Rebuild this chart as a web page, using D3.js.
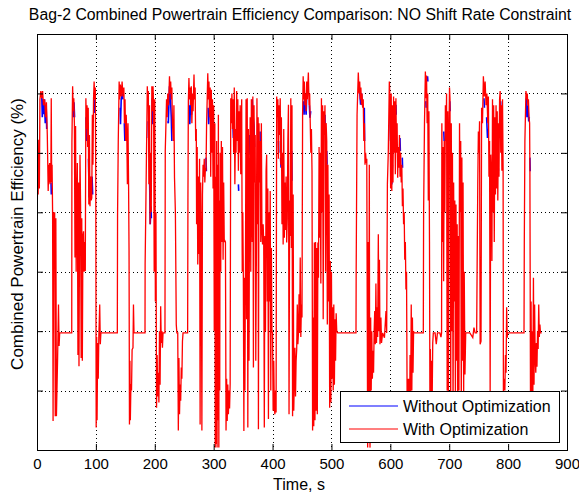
<!DOCTYPE html>
<html>
<head>
<meta charset="utf-8">
<script src="https://cdn.jsdelivr.net/npm/d3@7"></script>
<style>
body { margin: 0; background: #fff; }
text { font-family: "Liberation Sans", Arial, sans-serif; fill: #000; }
</style>
</head>
<body>
<div id="chart"></div>
<script>
const titleText = "Bag-2 Combined Powertrain Efficiency Comparison: NO Shift Rate Constraint";
const xLabel = "Time, s";
const yLabel = "Combined Powertrain Efficiency (%)";
const xTicks = [0, 100, 200, 300, 400, 500, 600, 700, 800, 900];
const yTicks = [0, 1, 2, 3, 4, 5, 6, 7];
const legendLabels = ["Without Optimization", "With Optimization"];
const seriesColors = ["#0000ff", "#ff0000"];

// [time s, efficiency (axis units)]
const withOpt = [
  [0,3.68],[0.8,4.36],[2,4.3],[3,5.22],[4,4.4],[5,5.9],[6.5,6.04],[8,5.92],[9.5,6.04],[11,5.8],[13,5.9],[14.5,5.6],[16,5.85],[17.5,5.3],[19,4.36],
  [20,4.8],[20.7,4.5],[21.4,4.83],[22.1,4.47],[22.8,4.8],[23.5,4.5],[24.2,5.92],[24.9,4.5],[25.6,4.8],[26.5,3.99],[27.3,0.49],[28.3,3.99],[30,3.99],[31,0.57],[32,3.9],[33,0.57],
  [35,1.55],[36.5,2.45],[37.5,1.75],[38.5,1.97],[59,1.97],
  [59.3,5.17],[60.5,6.12],[61.5,5.7],[62.5,5.92],[63.5,5.5],[64.5,3.24],[65.5,5.45],[66.5,3.0],[67.5,4.2],[68.5,4.83],[69.5,1.6],[70.5,4.5],[71.3,1.41],[72.2,3.5],[73,4.97],
  [74,4.13],[75,1.55],[76,3.9],[77,1.5],[78,3.6],[79,3.68],[80,3.0],[81,3.5],[82,3.01],[83,5.92],[84,5.4],[85,5.8],[86,5.1],[87,5.76],[88,4.13],[89,5.3],[90,4.1],
  [91,4.6],[92,4.2],[93,4.24],[94,5.64],[95,4.8],[96,5.9],[97,6.2],[98,5.9],[99,6.1],[99.8,4.5],[100.5,0.38],[101.3,1.9],[102,0.5],[103,1.8],[104,1.2],[105,1.9],
  [106.5,2.45],[107.5,1.78],[108.5,1.97],[136.4,1.97],
  [136.8,3.94],[138,5.2],[139.5,6.2],[140.5,5.9],[141.5,6.15],[143,5.95],[144.5,6.2],[146,5.95],[147.5,6.1],[148.5,5.5],[149.5,5.9],[150.5,5.2],[151.5,5.64],[152.5,5.3],
  [153.5,4.47],[154.5,5.5],[155.5,4.47],[156.3,3.35],[157,0.43],[157.8,1.5],[158.5,0.5],[159.5,1.11],[160.5,1.0],[161.5,1.69],[163,1.72],[163.8,2.45],[164.7,1.97],[183.4,1.97],
  [183.6,3.12],[185,4.24],[187.3,6.12],[188.3,5.8],[189,6.04],[190,4.47],[191,5.8],[192,3.8],[193,5.0],[194,4.0],[195,6.12],[196,5.7],[197,6.12],[198,5.8],[199,3.0],
  [200,5.9],[201,2.5],[202,4.0],[203,0.71],[204,1.6],[205,0.9],[206,1.3],[207,0.8],[208,2.0],[209,1.1],[210,2.42],[211,1.8],[212,2.0],[213,1.72],[214,1.97],[217.3,1.97],
  [217.8,5.03],[219,5.5],[220,5.9],[221,5.6],[222,6.0],[223.5,5.8],[225,6.29],[226,6.0],[227,6.2],[228,5.9],[229,6.1],[230,5.5],[231.5,5.2],[232.5,5.8],[233.5,4.58],
  [235,4.0],[236.5,2.11],[237.5,1.97],[239,1.97],[240,0.33],[241,1.55],[242,0.6],[243,1.1],[244,0.83],[245,1.39],[246,1.2],[247,1.83],[248,1.97],[255.8,1.97],
  [256.3,4.19],[257,5.87],[258,6.26],[259,5.9],[260,6.1],[261,5.8],[262,6.12],[263,5.5],[264,6.0],[265,5.7],[266.6,6.32],[267.5,5.9],[268.5,6.1],[269.5,5.2],[270.5,5.4],
  [271,3.8],[272,5.1],[273,3.12],[274,4.6],[275,3.3],[276,4.9],[277,0.43],[278,4.5],[279,3.6],[280,0.33],[281,4.3],[282,4.8],[283,4.6],[284,4.9],[285,4.5],[286,4.75],
  [287,4.7],[288,5.5],[289,5.9],[290,6.34],[291,5.9],[292,6.2],[293,5.6],[294,6.1],[295,4.6],[296,6.06],[297,5.0],[298,5.9],[299,4.4],[300,5.8],
  [301,2.0],[302,5.5],[302.7,0.04],[303.5,4.6],[304.3,0.1],[305,5.2],[305.8,0.04],[306.5,4.8],[307.3,0.5],[308,5.64],[308.8,0.04],[309.5,4.2],[310.3,1.0],[311,5.0],
  [312,3.0],[313,5.2],[314,3.5],[315,5.1],[316,3.2],[317,4.5],[318,3.5],[319,3.52],[320,3.5],[321,0.33],[322,1.2],[323,0.49],[324,1.1],[325,0.6],[326,1.0],[327,0.7],[328,1.11],
  [329,5.92],[330,5.5],[331,6.0],[332,5.4],[333,5.9],[334,5.0],[335,6.1],[336,4.47],[337,5.4],[338,5.0],[339,6.04],[340,5.2],[341,5.9],[342,4.7],[343,5.7],[344,5.0],
  [345,5.8],[346,4.64],[347.6,5.9],[348.5,3.0],[349.5,4.0],[350.4,2.9],[351.3,0.32],[352,2.9],[353,1.0],[354,3.1],[355,5.9],[356,2.2],[357,5.92],[358,0.38],[359,5.4],
  [360,1.5],[361,4.5],[362,5.6],[363,3.0],[364,5.9],
  [365.5,3.5],[366.5,5.95],[367.5,1.39],[368.5,5.8],[369.5,4.5],[370.5,5.3],[371.5,1.5],[372.5,3.2],[373.5,5.92],[374.5,3.8],[375.5,5.6],[376,0.35],[377,5.5],[378,4.5],
  [379,5.2],[380,3.5],[381,5.5],[382,3.7],[383,3.46],[384,3.8],[385,3.5],[386,0.38],[387,3.6],[388,2.0],[389,4.7],[390,4.97],[391,2.5],[392,4.4],[393,0.52],[394,4.0],
  [395,2.5],[396,4.36],[397,1.0],[398,3.4],[399,2.0],[400,1.97],[401,0.66],[402,1.5],[403,0.71],[404,0.6],[405,1.0],[406,0.63],[407,5.95],[408,5.6],[409,5.9],[410,4.9],[411,5.8],
  [412,5.3],[413,5.92],[414,4.8],[415,5.6],[416,3.8],[417,5.0],[418,3.46],[419,5.4],[420,3.57],[421,4.5],[422,3.7],[423,4.6],[424,3.49],[425,3.9],[426,5.2],[427,5.81],
  [428,0.6],[429,4.2],[430,3.6],[431,5.92],[432,3.4],[433,5.8],[434,0.57],[435,4.3],[436,0.66],[437,1.2],[438,1.72],[439,0.9],[440,1.5],[441,1.69],[442,2.45],[443,1.78],
  [444,1.97],[445,2.62],[446,1.97],[447,3.24],[448,1.9],[449,2.45],[450,2.23],
  [451,5.64],[452,6.29],[453,5.9],[454,6.2],[455,5.8],[456,6.0],[457,5.7],[458,6.2],[459,5.9],[460.8,6.35],[462,5.8],[463,6.0],[464,5.5],[465,5.0],[466,5.4],[467,4.7],
  [468,0.33],[469,2.23],[470,0.4],[471,3.49],[472,0.5],[473,3.5],[474,0.66],[475,3.4],[476,0.6],[477,3.49],[478,2.9],[479,5.1],[480,3.57],[481,5.0],[482,2.8],[483,5.92],
  [484,4.0],[485,5.8],[486,2.2],[487,5.7],[488,5.3],[489,5.8],[490,3.0],[491,5.5],[492,5.2],[493,2.11],[494,4.8],[495,2.5],[496,4.3],[497,0.71],[498,3.18],[499,0.8],
  [500,3.0],[501,1.2],[502,2.4],[503,1.0],[504,2.45],[505,1.1],[506,2.2],[507,1.5],[508,2.3],[509,2.0],[510.6,1.97],[541.7,1.97],
  [542,3.01],[543.5,5.64],[545.6,6.35],[547,6.0],[548,6.2],[549,5.9],[550,6.1],[551,5.81],[552,6.0],[553,5.76],[554,5.9],[555,5.2],[556,5.5],[557,4.8],[558,5.0],
  [559,4.83],[560,4.9],[561.5,0.04],[562.5,3.5],[563.5,0.5],[564.3,4.8],[565,0.5],[565.5,0.04],[566.6,2.23],[567.5,1.0],[568.5,2.0],[569.5,1.2],[570.5,1.67],[571.5,1.3],
  [572.5,2.0],[573.5,2.34],[574.5,1.78],[575.5,2.8],[576.5,1.8],[577.5,2.4],[578.5,1.9],[579.6,3.63],[580.5,2.0],[581.5,3.2],[582.4,1.78],[584,2.23],[585,1.8],[587,1.97],
  [590,1.89],[592.6,2.34],[593.8,1.97],[595,4.47],[596.5,5.0],[598.3,6.2],
  [599.4,5.9],[600.5,4.4],[601.5,6.0],[602.5,4.36],[603.5,5.8],[604.5,4.5],[605.5,5.95],[606.5,5.0],[607.5,5.87],[608.5,4.64],[609.5,5.92],[610.5,5.0],[611.5,5.5],
  [612.5,4.58],[613.5,5.1],[614.5,4.75],[615.5,5.3],[616.5,4.6],[617.5,5.0],[618.5,4.5],[619.5,4.8],[620.5,4.1],[621.5,4.4],[622.5,3.8],[623.5,4.0],[624.5,3.2],[625.5,3.5],
  [626.5,2.7],[627.5,3.0],[628.5,0.9],[629.5,1.2],[630.5,0.5],[631.5,1.2],[632.5,0.3],[633.5,1.6],[634.5,0.9],[635.5,2.45],[636.5,1.0],[637.5,2.23],[638.5,1.3],[639.5,2.0],
  [640,1.97],[656,1.97],
  [656.5,3.99],[658,5.5],[659.5,6.37],[660.5,5.92],[661.5,6.3],[662.5,5.5],[663.5,6.0],[664.5,4.2],[665.5,5.7],[666.5,3.5],[667.3,0.5],[668,1.7],[669,0.6],[670,1.5],
  [671,0.8],[672,1.8],[673,1.97],[676,1.97],[678,1.78],[680,1.97],[684,1.97],[686,1.9],[687,1.97],[687.5,5.5],[688.5,3.5],[689.5,5.1],[690.5,2.84],[691.5,5.2],[692.5,4.0],
  [693.5,5.8],[694.5,5.2],[695.5,6.0],[696.5,1.0],[697.5,5.7],[698.5,0.6],[699.5,5.3],[700.5,6.1],[701.3,5.9],[702.5,0.7],[703.5,5.5],[704.5,2.0],[705.5,5.0],[706.5,0.5],
  [707.5,4.5],[708.5,2.5],[709.5,4.2],[710.5,0.8],[711.5,4.13],[712.5,1.5],[713.5,3.8],[714.5,0.6],[715.5,3.6],[716.5,1.0],[717.5,5.5],[718.5,4.0],[719.5,5.2],[720.5,0.7],
  [721.5,4.92],[722.5,1.5],[723.5,4.5],[724.5,0.9],[725.5,3.0],[726.7,1.27],[728,1.97],[735,1.97],[740,1.89],[742,2.06],[744,1.97],[746.6,1.97],
  [747.5,3.24],[748.5,4.5],[749.5,5.36],[750.5,5.0],[751.5,5.53],[752.5,1.78],[754,1.83],[755,5.76],[756.5,5.5],[758,6.29],[759.5,5.95],[761,6.2],[762.5,5.8],[764,6.0],
  [765.5,5.5],[766.5,5.95],[767.5,4.6],[768.5,5.2],[769.5,0.99],[770.5,4.97],[771.5,4.64],[772.5,3.18],[773.5,5.9],[774.5,4.0],[775.5,5.8],[776.5,3.5],[777.5,5.6],
  [778.5,4.3],[779.5,5.8],[780.5,4.4],[781.5,5.7],[782.5,4.2],[783.5,5.5],[784.5,4.6],[785.5,5.9],[786.5,6.04],[787.5,5.0],[788.5,5.8],[789.5,4.7],[790.5,5.9],[791.5,4.75],
  [792,0.99],[793.5,1.2],[794.5,1.0],[795.5,1.6],[796.5,1.3],[797.5,2.4],[798.5,1.89],[799,1.97],[827,1.97],
  [827.5,3.5],[828.5,5.2],[830.3,6.04],[831.5,5.9],[832.5,6.0],[833.5,5.8],[834.5,5.9],[835.5,5.6],[836.5,5.5],[837,4.7],[838,0.8],[839,2.5],[840,0.6],[841,2.0],[842,0.9],
  [843,2.9],[844,1.1],[845,2.45],[846,1.55],[847,1.3],[848,1.8],[849,1.4],[850,2.0],[851,1.7],[852,2.45],[853,1.9],[854,2.11],[855,1.97],[857,1.97]
];

// blue trace: only the stretches that show from under the red one (null = gap)
const withoutOpt = [
  [8,6.0],[9,5.6],[10,5.9],[11,5.65],[12.5,5.9],[14,5.5],[15.5,5.8],[16.5,5.4],null,
  [23.8,4.5],[24.3,4.3],null,
  [60.8,5.9],[61.8,5.6],[62.8,5.85],[63.8,5.6],null,
  [83.2,5.6],[84.2,5.2],[85.2,5.5],null,
  [87.5,4.9],[88.5,4.25],[89.5,4.6],null,
  [93.5,4.6],[94.5,4.3],null,
  [97.3,5.9],[98.3,5.67],null,
  [141.2,5.76],[141.8,5.48],[143,5.9],[145,6.0],[146,5.9],null,
  [148.3,5.5],[149.2,5.2],null,
  [188.8,5.53],[189.3,5.25],null,
  [191.3,4.5],[192.3,3.8],[193.5,4.1],[194.2,3.9],null,
  [195.5,5.92],[196.5,5.48],null,
  [222,5.53],[223,5.5],[225,6.12],[226.5,5.95],[228,5.6],[229,5.2],null,
  [258.5,5.8],[259.5,5.48],[261,5.9],[262.5,5.64],[263.5,5.9],null,
  [287,4.92],[287.6,4.69],null,
  [290.5,5.76],[291.5,5.48],[292.5,5.7],null,
  [296.6,5.87],[297,5.7],null,
  [332.5,5.56],[333.5,5.25],[334.5,5.45],null,
  [342,4.47],[342.5,4.36],null,
  [345.5,5.64],[346.5,4.97],null,
  [359,5.3],[360,4.97],[361.5,5.3],[362.5,5.03],null,
  [365.5,5.9],[366.2,5.7],[368.5,5.45],[369.5,5.1],null,
  [378.8,5.36],[379.5,4.75],null,
  [410,5.2],[410.5,5.0],null,
  [413.5,4.92],[414.5,4.75],null,
  [432.5,5.03],[433,4.53],null,
  [452.5,5.87],[453.5,5.64],[454.5,5.9],null,
  [455.5,5.92],[457,5.64],[457.8,5.9],null,
  [462.5,5.8],[463.5,5.59],[464.8,5.7],null,
  [489,5.64],[489.6,5.36],null,
  [492,5.03],[492.6,4.8],null,
  [548,6.04],[549.5,5.81],[551,6.0],[552.5,5.8],null,
  [555.8,5.76],[556.3,5.2],null,
  [599.5,5.64],[600.5,5.2],[601.5,5.5],[602.5,4.47],[603.5,4.8],null,
  [609.5,5.81],[610,5.64],null,
  [616.4,5.25],[617,5.03],null,
  [620.3,4.92],[620.8,4.75],null,
  [660.3,5.87],[660.8,5.76],null,
  [663.2,6.29],[663.7,6.2],null,
  [690.8,5.36],[691.4,5.2],null,
  [696.8,5.6],[697.4,5.2],null,
  [701,5.87],[701.6,5.7],null,
  [708,4.19],[708.6,3.85],null,
  [759,5.92],[759.8,5.76],null,
  [763.5,5.6],[765,5.25],[766.2,5.4],null,
  [779,4.97],[779.5,4.86],null,
  [783,4.8],[783.5,4.7],null,
  [787.3,5.87],[787.8,5.7],null,
  [831,5.92],[832,5.6],[833.5,5.8],[835,5.53],[836,5.6],null,
  [837,4.92],[837.5,4.69]
];

class EffChart {
    constructor(blue, red) {
        this.blue = blue;
        this.red = red;
    }

    draw() {
        let width = 579;
        let height = 494;
        let left = 37, right = 567, top = 34, bottom = 450;
        let tick = 6;

        let x = d3.scaleLinear().domain([0, 900]).range([left, right]);
        let y = d3.scaleLinear().domain([0, 7]).range([bottom, top]);

        let svg = d3.select("#chart")
            .append("svg")
            .attr("width", width)
            .attr("height", height);

        svg.append("rect")
            .attr("width", width).attr("height", height)
            .attr("fill", "#fff");

        svg.append("defs").append("clipPath")
            .attr("id", "plotclip")
            .append("rect")
            .attr("x", left).attr("y", top)
            .attr("width", right - left).attr("height", bottom - top);

        // dotted grid
        let grid = svg.append("g")
            .attr("stroke", "#000")
            .attr("stroke-width", 1)
            .attr("stroke-dasharray", "1,3");
        grid.selectAll(".gx")
            .data(xTicks.slice(1, -1))
            .enter().append("line")
            .attr("x1", d => Math.round(x(d)) + 0.5).attr("x2", d => Math.round(x(d)) + 0.5)
            .attr("y1", top).attr("y2", bottom);
        grid.selectAll(".gy")
            .data(yTicks.slice(1, -1))
            .enter().append("line")
            .attr("y1", d => Math.round(y(d)) + 0.5).attr("y2", d => Math.round(y(d)) + 0.5)
            .attr("x1", left).attr("x2", right);

        let line = d3.line()
            .defined(d => d != null)
            .x(d => x(d[0]))
            .y(d => y(d[1]));

        let plot = svg.append("g").attr("clip-path", "url(#plotclip)");
        plot.append("path")
            .datum(this.blue)
            .attr("fill", "none")
            .attr("stroke", seriesColors[0])
            .attr("stroke-width", 1.6)
            .attr("d", line);
        plot.append("path")
            .datum(this.red)
            .attr("fill", "none")
            .attr("stroke", seriesColors[1])
            .attr("stroke-width", 1.3)
            .attr("d", line);

        // axes, ticks inside like matlab
        let xAxis = svg.append("g")
            .attr("transform", "translate(0," + bottom + ")")
            .call(d3.axisBottom(x).tickValues(xTicks).tickSizeInner(-tick).tickSizeOuter(0).tickPadding(8));
        let xTop = svg.append("g")
            .attr("transform", "translate(0," + top + ")")
            .call(d3.axisTop(x).tickValues(xTicks).tickSizeInner(-tick).tickSizeOuter(0).tickFormat(""));
        let yAxis = svg.append("g")
            .attr("transform", "translate(" + left + ",0)")
            .call(d3.axisLeft(y).tickValues(yTicks).tickSizeInner(-tick).tickSizeOuter(0).tickFormat(""));
        let yRight = svg.append("g")
            .attr("transform", "translate(" + right + ",0)")
            .call(d3.axisRight(y).tickValues(yTicks).tickSizeInner(-tick).tickSizeOuter(0).tickFormat(""));
        [xAxis, xTop, yAxis, yRight].forEach(g => {
            g.select(".domain").remove();
            g.selectAll("line").attr("stroke", "#000");
        });
        xAxis.selectAll("text")
            .attr("font-size", "15px")
            .attr("fill", "#000")
            .attr("dy", "0.7em");

        svg.append("rect")
            .attr("x", left + 0.5).attr("y", top + 0.5)
            .attr("width", right - left).attr("height", bottom - top)
            .attr("fill", "none")
            .attr("stroke", "#000")
            .attr("stroke-width", 1);

        svg.append("text")
            .attr("x", 300)
            .attr("y", 19.5)
            .attr("text-anchor", "middle")
            .attr("font-size", "15.8px")
            .text(titleText);

        svg.append("text")
            .attr("x", 299)
            .attr("y", 490)
            .attr("text-anchor", "middle")
            .attr("font-size", "16px")
            .text(xLabel);

        svg.append("text")
            .attr("transform", "translate(23,234) rotate(-90)")
            .attr("text-anchor", "middle")
            .attr("font-size", "17px")
            .text(yLabel);

        // legend
        let leg = svg.append("g");
        leg.append("rect")
            .attr("x", 340.5).attr("y", 391.5)
            .attr("width", 219).attr("height", 51)
            .attr("fill", "#fff")
            .attr("stroke", "#000");
        legendLabels.forEach((lab, i) => {
            let ly = 406 + i * 23;
            leg.append("line")
                .attr("x1", 349).attr("x2", 398)
                .attr("y1", ly).attr("y2", ly)
                .attr("stroke", seriesColors[i])
                .attr("stroke-width", 1.2);
            leg.append("text")
                .attr("x", 403).attr("y", ly + 5.5)
                .attr("font-size", "16px")
                .text(lab);
        });
    }
}

let chart = new EffChart(withoutOpt, withOpt);
chart.draw();
</script>
</body>
</html>
